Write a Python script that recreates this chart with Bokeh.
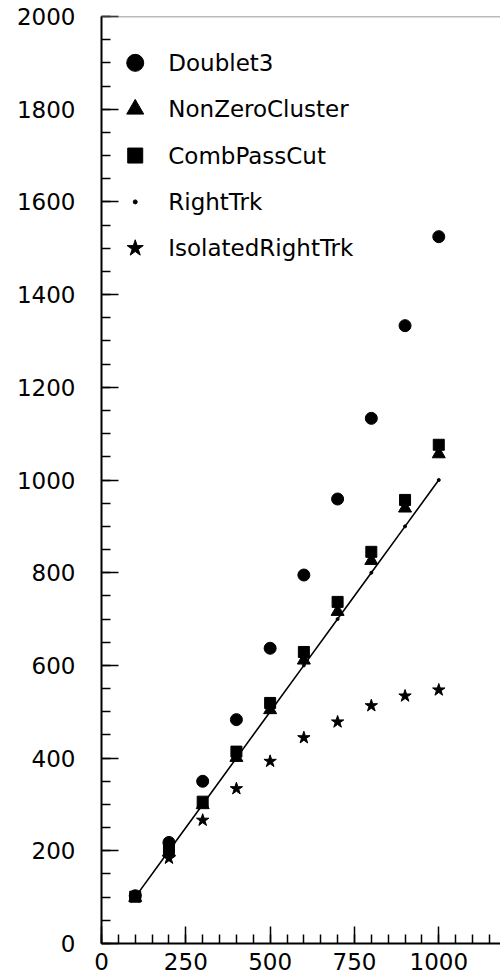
from bokeh.plotting import figure
from bokeh.models import Range1d, SingleIntervalTicker, Span, ColumnDataSource
from bokeh.core.properties import value
from bokeh.embed import file_html
from bokeh.resources import INLINE

# ---- data ----
x_vals = [100, 200, 300, 400, 500, 600, 700, 800, 900, 1000]
doublet3 = [103, 218, 350, 483, 637, 795, 959, 1133, 1333, 1525]
nonzero_cluster = [99, 197, 299, 401, 504, 611, 716, 826, 939, 1056]
comb_pass_cut = [101, 206, 306, 414, 519, 629, 737, 845, 957, 1076]
right_trk = [100, 200, 300, 400, 500, 600, 700, 800, 900, 1000]
isolated_right_trk = [100, 184, 266, 334, 393, 444, 478, 513, 534, 547]

series_names = ["Doublet3", "NonZeroCluster", "CombPassCut", "RightTrk", "IsolatedRightTrk"]
series_markers = ["circle", "triangle", "square", "dot", "star"]

FONT = "DejaVu Sans"

p = figure(width=500, height=980, output_backend="svg", toolbar_location=None,
           x_range=Range1d(0, 1183), y_range=Range1d(0, 2000),
           min_border_left=101, min_border_right=0, min_border_top=16, min_border_bottom=37)
p.outline_line_color = None
p.grid.visible = False
p.background_fill_color = "white"
p.border_fill_color = "white"

p.xaxis.ticker = SingleIntervalTicker(interval=250, num_minor_ticks=5)
p.yaxis.ticker = SingleIntervalTicker(interval=200, num_minor_ticks=4)
for ax in (p.xaxis, p.yaxis):
    ax.axis_line_width = 2
    ax.axis_line_color = "black"
    ax.major_tick_in = 17
    ax.major_tick_out = 0
    ax.minor_tick_in = 9
    ax.minor_tick_out = 0
    ax.major_tick_line_width = 1.5
    ax.minor_tick_line_width = 1.5
    ax.major_tick_line_color = "black"
    ax.minor_tick_line_color = "black"
    ax.major_label_text_font = FONT
    ax.major_label_text_font_size = "23px"
    ax.major_label_text_color = "black"
p.yaxis.major_label_standoff = 26
p.xaxis.major_label_standoff = 9

p.add_layout(Span(location=2000, dimension="width", line_color="#777777", line_width=1.5))

src = ColumnDataSource(dict(x=x_vals, d3=doublet3, nz=nonzero_cluster, cp=comb_pass_cut,
                            rt=right_trk, iso=isolated_right_trk))

p.line("x", "rt", source=src, line_color="black", line_width=1.6)
p.scatter("x", "rt", source=src, marker="circle", size=3, color="black")
p.scatter("x", "iso", source=src, marker="star", size=13, color="black")
p.scatter("x", "nz", source=src, marker="triangle", size=13, color="black")
p.scatter("x", "cp", source=src, marker="square", size=11, color="black")
p.scatter("x", "d3", source=src, marker="circle", size=12, color="black")

# ---- legend (manual, inside the frame) ----
leg_y = [1900 - 100 * i for i in range(len(series_names))]
leg_sizes = {"circle": 17, "triangle": 17, "square": 15, "dot": 4, "star": 17}
for name, mk, ly in zip(series_names, series_markers, leg_y):
    m = "circle" if mk == "dot" else mk
    p.scatter([100], [ly], marker=m, size=leg_sizes[mk], color="black")
p.text(x=[198] * len(series_names), y=leg_y, text=series_names,
       text_font=value(FONT), text_font_size="23px", text_color="black",
       text_baseline="middle", text_align="left")

open("out.html", "w").write(file_html(p, INLINE))
